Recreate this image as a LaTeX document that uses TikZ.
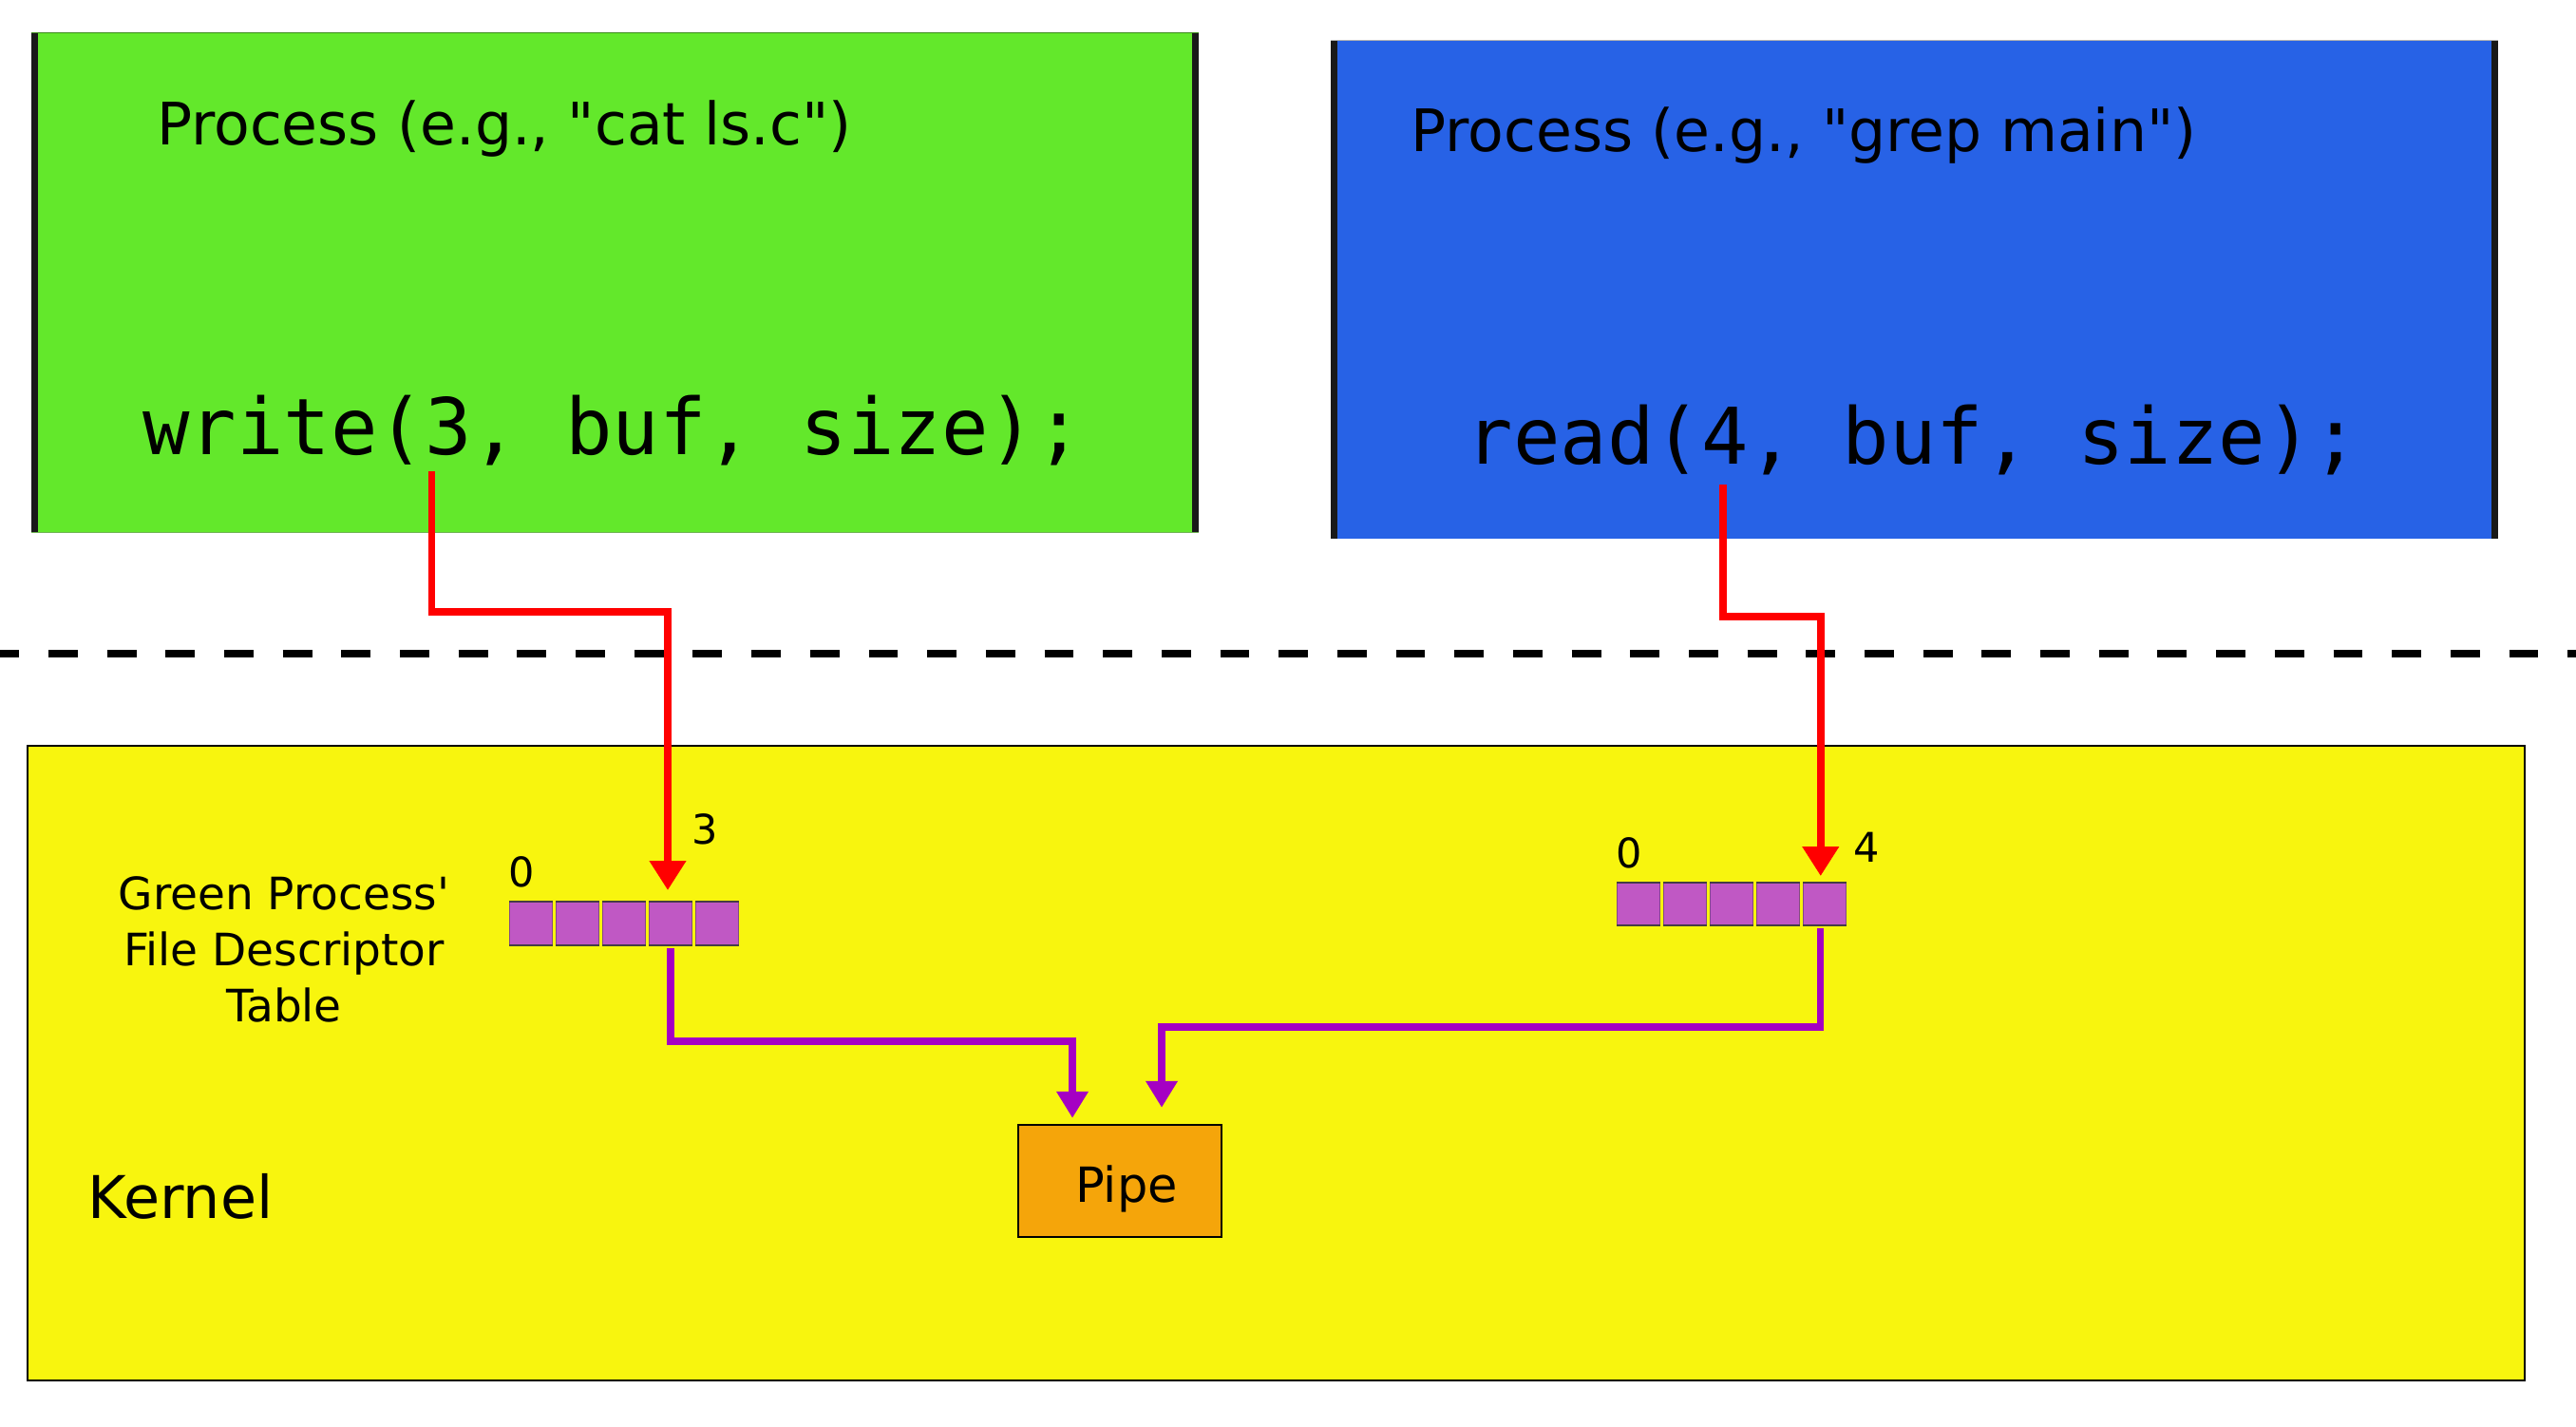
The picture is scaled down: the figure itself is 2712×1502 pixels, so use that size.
\documentclass[tikz,border=0pt]{standalone}
\usepackage{fontspec}
\newfontfamily\dejavu{DejaVu Sans}
\newfontfamily\dejavumono{DejaVu Sans Mono}
\usetikzlibrary{arrows.meta,calc}
\definecolor{procgreen}{RGB}{99,232,43}
\definecolor{procblue}{RGB}{39,98,230}
\definecolor{kernyellow}{RGB}{248,245,14}
\definecolor{pipeorange}{RGB}{245,165,10}
\definecolor{cellpurple}{RGB}{192,88,196}
\definecolor{linkpurple}{RGB}{165,0,195}
\definecolor{celledge}{RGB}{70,60,70}
\tikzset{
  titletext/.style={font=\dejavu\fontsize{30.8}{37}\selectfont, inner sep=0pt, anchor=base},
  codetext/.style={font=\dejavumono\fontsize{41.1}{50}\selectfont, inner sep=0pt, anchor=base},
  lbltext/.style={font=\dejavu\fontsize{23.5}{28}\selectfont, inner sep=0pt, anchor=base},
  digittext/.style={font=\dejavu\fontsize{21.5}{26}\selectfont, inner sep=0pt, anchor=base},
  fdcell/.style={fill=cellpurple, draw=celledge!50!cellpurple, line width=0.5pt,
    minimum width=22.5pt, minimum height=22.5pt, inner sep=0pt, anchor=north west},
  celledgeline/.style={draw=celledge, line width=1.3pt},
  redarrow/.style={draw=red, line width=3.75pt, -{Triangle[width=18.5pt,length=15.5pt]}},
  purplearrow/.style={draw=linkpurple, line width=3.75pt, -{Triangle[width=16pt,length=14pt]}},
  pipebox/.style={fill=pipeorange, draw=black, line width=1.2pt, minimum width=107pt,
    minimum height=59pt, inner sep=0pt},
  sideborder/.style={draw=black!90, line width=3.5pt},
}
\begin{document}
\begin{tikzpicture}[x=0.5pt,y=-0.5pt]
\useasboundingbox[fill=white] (0,0) rectangle (2712,1502);

% user-space process boxes
\fill[procgreen] (33,35) rectangle (1262,560);
\draw[procgreen!60!black, line width=0.5pt] (33,35) -- (1262,35);
\draw[procgreen!50!gray, line width=0.5pt] (33,560) -- (1262,560);
\draw[sideborder] (36.5,35) -- (36.5,560);
\draw[sideborder] (1258.5,35) -- (1258.5,560);

\fill[procblue] (1401,43) rectangle (2630,567);
\draw[gray!60, line width=0.5pt] (1401,43) -- (2630,43);
\draw[sideborder] (1404.5,43) -- (1404.5,567);
\draw[sideborder] (2626.5,43) -- (2626.5,567);

\node[titletext] (gtitle) at (531,153) {Process (e.g., "cat ls.c")};
\node[titletext] (btitle) at (1899,160) {Process (e.g., "grep main")};
\node[codetext] (wcode) at (645,479) {write(3, buf, size);};
\node[codetext] (rcode) at (2014,488) {read(4, buf, size);};

% user/kernel boundary
\draw[line width=4pt, dash pattern=on 15.42pt off 15.42pt] (-10.7,688) -- (2712,688);

% kernel
\path[draw=black, line width=1pt, fill=kernyellow] (29,785) rectangle (2658,1453);
\node[font=\dejavu\fontsize{31}{37}\selectfont, inner sep=0pt, anchor=base] (kernel) at (190,1282) {Kernel};

\node[lbltext] (lbl1) at (299,957) {Green Process'};
\node[lbltext] (lbl2) at (299,1016) {File Descriptor};
\node[lbltext] (lbl3) at (299,1075) {Table};

% file descriptor tables
\foreach \i in {1,...,5} {
  \node[fdcell] (g\i) at ({536+49*(\i-1)},949) {};
  \draw[celledgeline] (g\i.north west) -- (g\i.north east);
  \draw[celledgeline] (g\i.south west) -- (g\i.south east);
  \node[fdcell, minimum height=22pt, minimum width=22.25pt] (r\i) at ({1702+49*(\i-1)},929) {};
  \draw[celledgeline] (r\i.north west) -- (r\i.north east);
  \draw[celledgeline] (r\i.south west) -- (r\i.south east);
}
\node[digittext] (gzero) at (549,933) {0};
\node[digittext] (gthree) at (742,888) {3};
\node[digittext] (rzero) at (1715,913) {0};
\node[digittext] (rfour) at (1965,907) {4};

% pipe
\node[pipebox] (pipe) at (1179,1243) {};
\node[font=\dejavu\fontsize{25.5}{30}\selectfont, inner sep=0pt, anchor=base] (pipelabel) at (1186,1265) {Pipe};

% system call arrows
\coordinate (wsrc) at (454.5,496);
\coordinate (rsrc) at (1814,510);
\draw[redarrow, shorten >=6pt] (wsrc) -- ++(0,148) -| ($(g4.north)+(-3,0)$);
\draw[redarrow, shorten >=3.5pt] (rsrc) -- ++(0,139) -| ($(r5.north)+(-4,0)$);

% descriptor to pipe arrows
\draw[purplearrow, shorten <=1.5pt, shorten >=3pt] (g4.south) -- ++(0,101) -| ($(pipe.north)+(-50,0)$);
\draw[purplearrow, shorten <=1.5pt, shorten >=8.5pt] ($(r5.south)+(-4.5,0)$) -- ++(0,107) -| ($(pipe.north)+(44,0)$);
\end{tikzpicture}
\end{document}
